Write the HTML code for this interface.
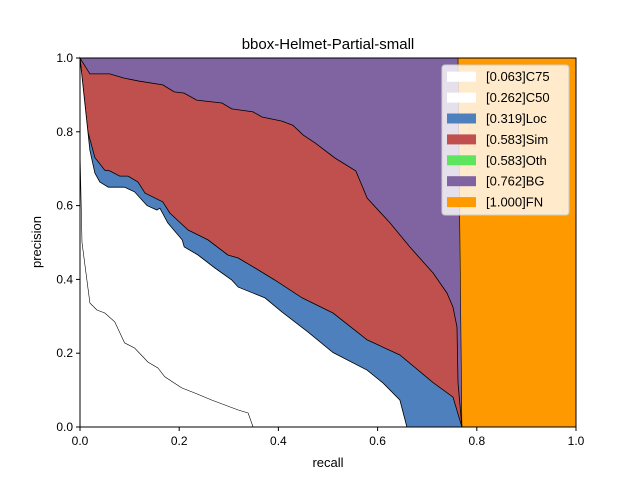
<!DOCTYPE html>
<html><head><meta charset="utf-8"><style>
body{margin:0;background:#fff;}
svg{display:block;font-family:"Liberation Sans","DejaVu Sans",sans-serif;}
</style></head><body>
<svg id="chart" width="640" height="480" viewBox="0 0 640 480">
<rect x="0" y="0" width="640" height="480" fill="#fff"/>
<g id="plot"></g>
<g id="axes"></g>
<text x="328" y="49" text-anchor="middle" font-size="15">bbox-Helmet-Partial-small</text>
<text x="328" y="467" text-anchor="middle" font-size="13">recall</text>
<text transform="translate(41,242) rotate(-90)" text-anchor="middle" font-size="13">precision</text>
<g id="legend"></g>
</svg>
<script>
const ticks = [0, 0.2, 0.4, 0.6, 0.8, 1.0];
const tickLabels = ["0.0","0.2","0.4","0.6","0.8","1.0"];
const legendLabels = ["[0.063]C75","[0.262]C50","[0.319]Loc","[0.583]Sim","[0.583]Oth","[0.762]BG","[1.000]FN"];
const legendColors = ["#ffffff","#ffffff","#4d80bc","#c0504d","#5ee55e","#8064a2","#ff9900"];
const bgRecall = [0, 0.762, 0.770];
const bgPrec = [1, 1, 0];
const simRecall = [0,0.02,0.06,0.087,0.12,0.167,0.19,0.21,0.235,0.286,0.306,0.349,0.367,0.407,0.429,0.45,0.474,0.514,0.556,0.579,0.625,0.665,0.712,0.74,0.752,0.76,0.762,0.77];
const simPrec = [1,0.957,0.957,0.946,0.937,0.927,0.908,0.905,0.886,0.878,0.862,0.854,0.84,0.829,0.818,0.791,0.77,0.729,0.694,0.62,0.553,0.488,0.417,0.363,0.325,0.271,0.12,0];
const locRecall = [0,0.016,0.03,0.05,0.06,0.08,0.097,0.117,0.131,0.167,0.181,0.218,0.258,0.298,0.319,0.353,0.393,0.448,0.51,0.579,0.645,0.712,0.752,0.77];
const locPrec = [1,0.8,0.73,0.696,0.694,0.68,0.68,0.664,0.634,0.61,0.58,0.534,0.507,0.466,0.458,0.431,0.398,0.35,0.309,0.236,0.195,0.12,0.081,0];
const c50Recall = [0,0.02,0.03,0.04,0.057,0.09,0.11,0.135,0.155,0.161,0.177,0.206,0.21,0.238,0.272,0.306,0.319,0.373,0.407,0.46,0.51,0.579,0.611,0.645,0.659];
const c50Prec = [1,0.75,0.688,0.664,0.65,0.65,0.637,0.6,0.588,0.593,0.553,0.507,0.488,0.466,0.431,0.398,0.379,0.35,0.312,0.257,0.202,0.154,0.119,0.073,0];
const c75Recall = [0,0.004,0.02,0.034,0.05,0.07,0.09,0.11,0.137,0.157,0.171,0.205,0.232,0.266,0.319,0.339,0.349];
const c75Prec = [0.75,0.5,0.336,0.317,0.309,0.285,0.228,0.214,0.176,0.16,0.136,0.106,0.092,0.073,0.046,0.038,0];

const X0=80,X1=576,Y0=427,Y1=58;
const sx=r=>X0+r*(X1-X0), sy=p=>Y0-p*(Y0-Y1);
const NS="http://www.w3.org/2000/svg";
const plot=document.getElementById('plot'), axes=document.getElementById('axes'), legend=document.getElementById('legend');
function mk(tag,attrs,parent){const e=document.createElementNS(NS,tag);for(const k in attrs)e.setAttribute(k,attrs[k]);parent.appendChild(e);return e;}
function areaPath(rs,ps){let d='M'+sx(rs[0])+','+sy(0);for(let i=0;i<rs.length;i++)d+='L'+sx(rs[i]).toFixed(1)+','+sy(ps[i]).toFixed(1);d+='L'+sx(rs[rs.length-1])+','+sy(0)+'Z';return d;}
function linePath(rs,ps){let d='';for(let i=0;i<rs.length;i++)d+=(i?'L':'M')+sx(rs[i]).toFixed(1)+','+sy(ps[i]).toFixed(1);return d;}

const fn=mk('rect',{x:X0,y:Y1,width:X1-X0,height:Y0-Y1,fill:'#ff9900'},plot);


const bg=mk('path',{d:areaPath(bgRecall,bgPrec),fill:'#8064a2',stroke:'#000','stroke-width':0.6},plot);


const sim=mk('path',{d:areaPath(simRecall,simPrec),fill:'#c0504d',stroke:'#000','stroke-width':0.8},plot);


const loc=mk('path',{d:areaPath(locRecall,locPrec),fill:'#4d80bc',stroke:'#000','stroke-width':0.8},plot);


const c50=mk('path',{d:areaPath(c50Recall,c50Prec),fill:'#fff',stroke:'#000','stroke-width':0.8},plot);


const c75=mk('path',{d:linePath(c75Recall,c75Prec),fill:'none',stroke:'#000','stroke-width':0.6},plot);



const frame=mk('rect',{x:X0,y:Y1,width:X1-X0,height:Y0-Y1,fill:'none',stroke:'#000','stroke-width':1},axes);


ticks.forEach((t,i)=>{
  const xt=mk('line',{x1:sx(t),x2:sx(t),y1:Y0,y2:Y0+4,stroke:'#000'},axes);
  
  
  const xl=mk('text',{x:sx(t),y:Y0+18,'text-anchor':'middle','font-size':12},axes);
  xl.textContent=tickLabels[i];
  
  
  const yt=mk('line',{x1:X0-4,x2:X0,y1:sy(t),y2:sy(t),stroke:'#000'},axes);
  
  
  const yl=mk('text',{x:X0-7,y:sy(t)+4,'text-anchor':'end','font-size':12},axes);
  yl.textContent=tickLabels[i];
  
  
});

const lb=mk('rect',{x:442,y:65,width:127,height:150,rx:3,fill:'#fff','fill-opacity':0.8,stroke:'#ccc'},legend);


legendLabels.forEach((lab,i)=>{
  const cy=76.7+i*20.9;
  const p=mk('rect',{x:447,y:cy-5,width:29,height:10,fill:legendColors[i]},legend);
  
  
  const t=mk('text',{x:486,y:cy+4.5,'font-size':13},legend);
  t.textContent=lab;
  
  
});
</script>
</body></html>
